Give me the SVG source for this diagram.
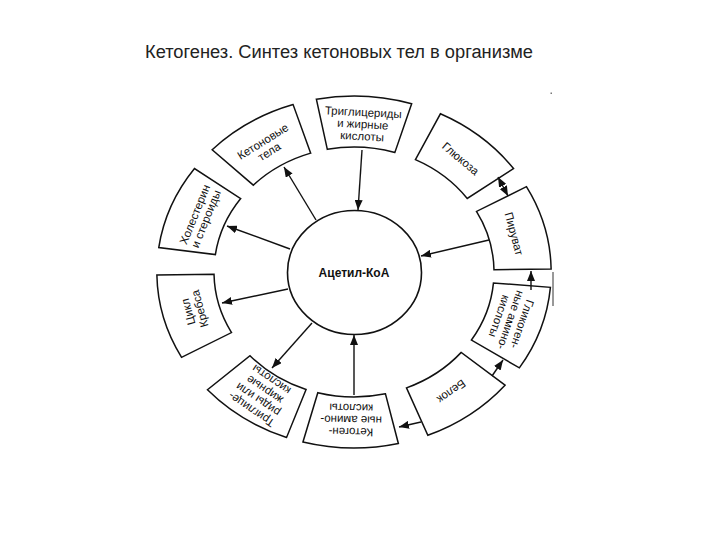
<svg xmlns="http://www.w3.org/2000/svg" xmlns:xlink="http://www.w3.org/1999/xlink" width="720" height="540" viewBox="0 0 720 540">
<style>
.box{fill:#fff;stroke:#111;stroke-width:1.5;vector-effect:non-scaling-stroke}
.lbl{font-family:"Liberation Sans",Arial,sans-serif;font-size:11.5px;fill:#111;text-anchor:middle}
.title{font-family:"Liberation Sans",Arial,sans-serif;font-size:18px;fill:#222}
.con line{stroke:#111;stroke-width:1.4;fill:none}
</style>
<defs>
<path id="sector" class="box" d="M -42.6 -170.8 A 176 176 0 0 1 42.6 -170.8 L 30.2 -121.3 A 125 125 0 0 0 -30.2 -121.3 Z"/>
<marker id="ah" viewBox="0 0 10 8" refX="10" refY="4" markerWidth="10" markerHeight="8" markerUnits="userSpaceOnUse" orient="auto-start-reverse">
<path d="M0 0 L10 4 L0 8 Z" fill="#111"/>
</marker>
</defs>
<rect width="720" height="540" fill="#fff"/>
<text class="title" x="145" y="58" textLength="388" lengthAdjust="spacingAndGlyphs">Кетогенез. Синтез кетоновых тел в организме</text>

<g id="center">
<ellipse cx="354.5" cy="272.5" rx="67" ry="62" fill="#fff" stroke="#111" stroke-width="1.6"/>
<text x="354" y="277" style="font-family:'Liberation Sans',Arial,sans-serif;font-size:12px;font-weight:bold;fill:#111;text-anchor:middle">Ацетил-КоА</text>
</g>

<g id="ketone-bodies">
<g transform="translate(354 272) scale(1.12 1)"><use xlink:href="#sector" transform="rotate(-32)"/></g>
<g transform="translate(266.1 146.5) rotate(-32)"><text class="lbl"><tspan x="0" y="-2">Кетоновые</tspan><tspan x="0" y="10">тела</tspan></text></g>
</g>

<g id="triglycerides-top">
<g transform="translate(354 272) scale(1.12 1)"><use xlink:href="#sector" transform="rotate(3)"/></g>
<g transform="translate(362.7 124.2) rotate(3)"><text class="lbl"><tspan x="0" y="-8">Триглицериды</tspan><tspan x="0" y="4">и жирные</tspan><tspan x="0" y="16">кислоты</tspan></text></g>
</g>

<g id="glucose">
<g transform="translate(354 272) scale(1.12 1)"><use xlink:href="#sector" transform="rotate(40)"/></g>
<g transform="translate(460.6 158.6) rotate(40)"><text class="lbl"><tspan x="0" y="4">Глюкоза</tspan></text></g>
</g>

<g id="pyruvate">
<g transform="translate(354 272) scale(1.12 1)"><use xlink:href="#sector" transform="rotate(75)"/></g>
<g transform="translate(514.1 233.7) rotate(75)"><text class="lbl"><tspan x="0" y="4">Пируват</tspan></text></g>
</g>

<g id="glucogenic-aa">
<g transform="translate(354 272) scale(1.12 1)"><use xlink:href="#sector" transform="rotate(109)"/></g>
<g transform="translate(510.8 320.2) rotate(109)"><text class="lbl"><tspan x="0" y="-8">Гликоген-</tspan><tspan x="0" y="4">ные амино-</tspan><tspan x="0" y="16">кислоты</tspan></text></g>
</g>

<g id="protein">
<g transform="translate(354 272) scale(1.12 1)"><use xlink:href="#sector" transform="rotate(144)"/></g>
<g transform="translate(451.5 391.7) rotate(144)"><text class="lbl"><tspan x="0" y="4">Белок</tspan></text></g>
</g>

<g id="ketogenic-aa">
<g transform="translate(354 272) scale(1.12 1)"><use xlink:href="#sector" transform="rotate(181)"/></g>
<g transform="translate(351.1 420) rotate(181)"><text class="lbl"><tspan x="0" y="-8">Кетоген-</tspan><tspan x="0" y="4">ные амино-</tspan><tspan x="0" y="16">кислоты</tspan></text></g>
</g>

<g id="triglycerides-bottom">
<g transform="translate(354 272) scale(1.12 1)"><use xlink:href="#sector" transform="rotate(214)"/></g>
<g transform="translate(261.3 394.7) rotate(214)"><text class="lbl"><tspan x="0" y="-14">Триглице-</tspan><tspan x="0" y="-2">риды или</tspan><tspan x="0" y="10">жирные</tspan><tspan x="0" y="22">кислоты</tspan></text></g>
</g>

<g id="krebs-cycle">
<g transform="translate(354 272) scale(1.12 1)"><use xlink:href="#sector" transform="rotate(255)"/></g>
<g transform="translate(193.9 310.3) rotate(255)"><text class="lbl"><tspan x="0" y="-2">Цикл</tspan><tspan x="0" y="10">Кребса</tspan></text></g>
</g>

<g id="cholesterol">
<g transform="translate(354 272) scale(1.12 1)"><use xlink:href="#sector" transform="rotate(-68)"/></g>
<g transform="translate(200.3 216.6) rotate(-68)"><text class="lbl"><tspan x="0" y="-2">Холестерин</tspan><tspan x="0" y="10">и стероиды</tspan></text></g>
</g>

<g id="connectors" class="con">
<line x1="362" y1="150" x2="358" y2="210" marker-end="url(#ah)"/>
<line x1="316" y1="220" x2="284" y2="167" marker-end="url(#ah)"/>
<line x1="290" y1="249" x2="227" y2="226" marker-end="url(#ah)"/>
<line x1="288" y1="289" x2="222" y2="303" marker-end="url(#ah)"/>
<line x1="312" y1="323" x2="272" y2="368" marker-end="url(#ah)"/>
<line x1="354" y1="395" x2="354" y2="335" marker-end="url(#ah)"/>
<line x1="489" y1="240" x2="421" y2="256" marker-end="url(#ah)"/>
<line x1="498" y1="177" x2="508" y2="196" marker-start="url(#ah)" marker-end="url(#ah)"/>
<line x1="531" y1="290" x2="531" y2="271" marker-end="url(#ah)"/>
<line x1="492" y1="376" x2="503" y2="360" marker-end="url(#ah)"/>
<line x1="421" y1="422" x2="399" y2="427" marker-end="url(#ah)"/>
</g>

<line x1="553" y1="272" x2="553" y2="306" stroke="#333" stroke-width="1"/>
<rect x="550.5" y="92.5" width="1.5" height="1.5" fill="#777"/>
</svg>
